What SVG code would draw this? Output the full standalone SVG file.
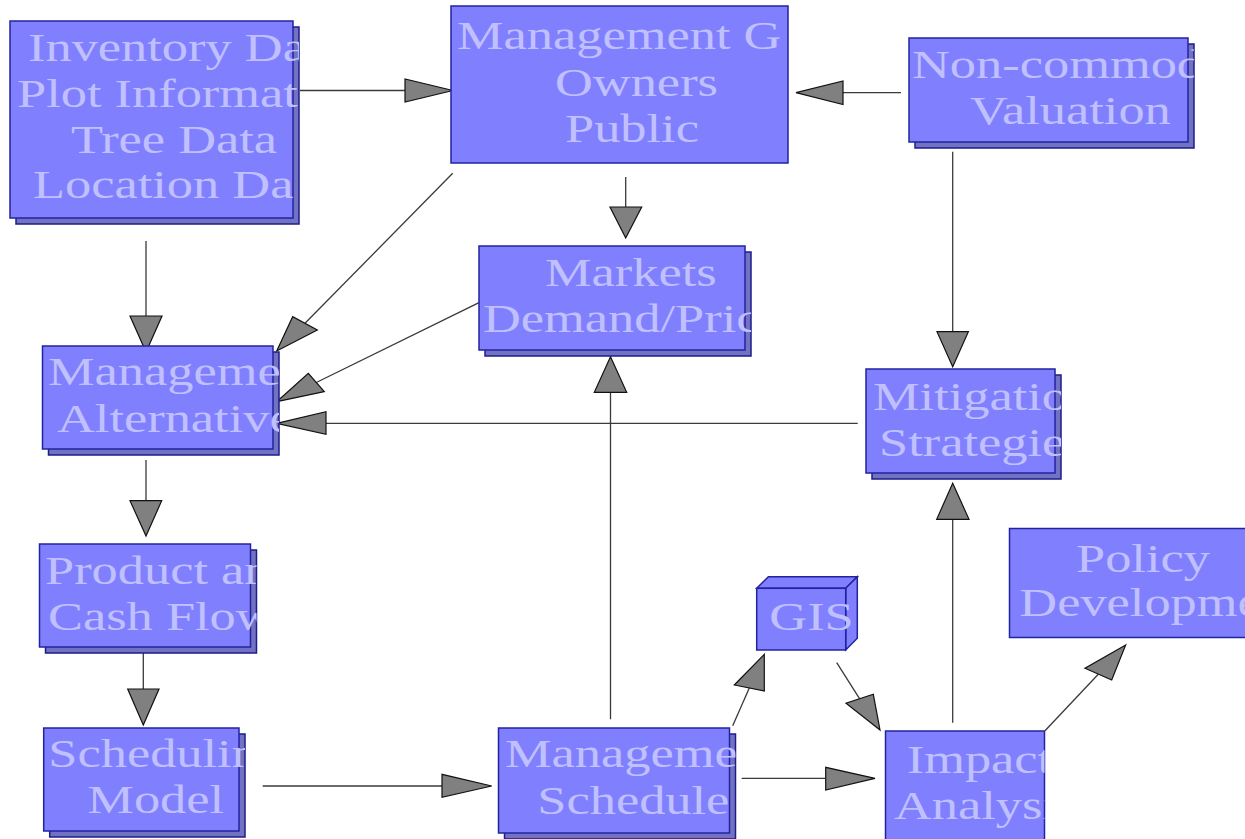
<svg xmlns="http://www.w3.org/2000/svg" width="1245" height="839" viewBox="0 0 1245 839">
<style>
.box{fill:#8080ff;stroke:#2323a0;stroke-width:1.5}
.shd{fill:#7272c2;stroke:#1c1c8c;stroke-width:1.5}
.t{font-family:"Liberation Serif","Times New Roman",serif;font-size:40px;fill:#c0c0ff}
.ln{stroke:#3a3a3a;stroke-width:1.3;fill:none}
.ah{fill:#808080;stroke:#111;stroke-width:1.2;stroke-linejoin:miter}
</style>
<defs>
<clipPath id="c1"><rect x="10" y="21" width="289" height="203"/></clipPath>
<clipPath id="c2"><rect x="451" y="6" width="337" height="157"/></clipPath>
<clipPath id="c3"><rect x="909" y="38" width="285" height="110"/></clipPath>
<clipPath id="c4"><rect x="479" y="246" width="272" height="110"/></clipPath>
<clipPath id="c5"><rect x="42.5" y="346" width="236.5" height="109"/></clipPath>
<clipPath id="c6"><rect x="866" y="369" width="195" height="110"/></clipPath>
<clipPath id="c7"><rect x="39.5" y="544" width="217" height="109"/></clipPath>
<clipPath id="c8"><rect x="1009.5" y="528.5" width="260" height="109"/></clipPath>
<clipPath id="c10"><rect x="43.7" y="728" width="201.3" height="109"/></clipPath>
<clipPath id="c11"><rect x="498.5" y="728" width="237" height="111"/></clipPath>
<clipPath id="c12"><rect x="885.5" y="731" width="159" height="120"/></clipPath>
</defs>

<g id="connectors">
<line class="ln" x1="300" y1="90.5" x2="405" y2="90.5"/>
<polygon class="ah" points="453,90.5 405,79 405,102"/>
<line class="ln" x1="901" y1="92.7" x2="843" y2="92.7"/>
<polygon class="ah" points="796,92.7 843,81 843,104.5"/>
<line class="ln" x1="625.7" y1="177" x2="625.7" y2="207"/>
<polygon class="ah" points="625.7,238 610,207 641.7,207"/>
<line class="ln" x1="452.7" y1="173.3" x2="305" y2="323.3"/>
<polygon class="ah" points="276.7,351 292.7,316.7 317.3,330"/>
<line class="ln" x1="479" y1="302.7" x2="316.3" y2="382.5"/>
<polygon class="ah" points="276.7,401.7 308.3,373.3 324.3,391.7"/>
<line class="ln" x1="857.7" y1="423.3" x2="326" y2="423.3"/>
<polygon class="ah" points="276.7,423.3 326,411.7 326,434.3"/>
<line class="ln" x1="146" y1="241" x2="146" y2="316"/>
<polygon class="ah" points="146,352 130,316 162,316"/>
<line class="ln" x1="952.7" y1="151.7" x2="952.7" y2="331.7"/>
<polygon class="ah" points="952.7,366.7 937,331.7 968.4,331.7"/>
<line class="ln" x1="146" y1="460" x2="146" y2="500.7"/>
<polygon class="ah" points="146,536 130,500.7 161.7,500.7"/>
<line class="ln" x1="143.3" y1="652" x2="143.3" y2="689"/>
<polygon class="ah" points="143.3,725 127.7,689 159,689"/>
<line class="ln" x1="262.7" y1="786" x2="442" y2="786"/>
<polygon class="ah" points="491.7,786 442,774.3 442,797.3"/>
<line class="ln" x1="610.5" y1="719.3" x2="610.5" y2="392.3"/>
<polygon class="ah" points="610.5,356.7 594.3,392.3 626.7,392.3"/>
<line class="ln" x1="732.7" y1="725.7" x2="749.3" y2="688"/>
<polygon class="ah" points="764.3,654.3 734.3,685 764.3,691"/>
<line class="ln" x1="836.7" y1="662.7" x2="859.7" y2="698.8"/>
<polygon class="ah" points="880,730 846,703.3 873.3,694.3"/>
<line class="ln" x1="741.7" y1="778.3" x2="825.7" y2="778.3"/>
<polygon class="ah" points="875,778.3 825.7,767.3 825.7,790"/>
<line class="ln" x1="952.7" y1="722.7" x2="952.7" y2="519.3"/>
<polygon class="ah" points="952.7,483.3 936.7,519.3 969,519.3"/>
<line class="ln" x1="1045" y1="730.7" x2="1098.3" y2="674.2"/>
<polygon class="ah" points="1125.7,645 1085,668.3 1111.7,680"/>
</g>

<g id="inventory">
<rect class="shd" x="16" y="27" width="283" height="197"/>
<rect class="box" x="10" y="21" width="283" height="197"/>
<g clip-path="url(#c1)">
<text class="t" transform="translate(28,61) scale(1.31,1)">Inventory Da</text>
<text class="t" transform="translate(17,107) scale(1.31,1)">Plot Informat</text>
<text class="t" transform="translate(71,153) scale(1.31,1)">Tree Data</text>
<text class="t" transform="translate(33,198) scale(1.31,1)">Location Da</text>
</g>
</g>

<g id="goals">
<rect class="box" x="451" y="6" width="337" height="157"/>
<g clip-path="url(#c2)">
<text class="t" transform="translate(457,49) scale(1.31,1)">Management G</text>
<text class="t" transform="translate(555,96) scale(1.31,1)">Owners</text>
<text class="t" transform="translate(565,142) scale(1.31,1)">Public</text>
</g>
</g>

<g id="noncommodity">
<rect class="shd" x="915" y="44" width="279" height="104"/>
<rect class="box" x="909" y="38" width="279" height="104"/>
<g clip-path="url(#c3)">
<text class="t" transform="translate(912,78) scale(1.31,1)">Non-commod</text>
<text class="t" transform="translate(970,124) scale(1.31,1)">Valuation</text>
</g>
</g>

<g id="markets">
<rect class="shd" x="485" y="252" width="266" height="104"/>
<rect class="box" x="479" y="246" width="266" height="104"/>
<g clip-path="url(#c4)">
<text class="t" transform="translate(545,286) scale(1.31,1)">Markets</text>
<text class="t" transform="translate(483,332) scale(1.31,1)">Demand/Pric</text>
</g>
</g>

<g id="alternatives">
<rect class="shd" x="48.5" y="352" width="230.5" height="103"/>
<rect class="box" x="42.5" y="346" width="230.5" height="103"/>
<g clip-path="url(#c5)">
<text class="t" transform="translate(48,385) scale(1.31,1)">Manageme</text>
<text class="t" transform="translate(57,431.7) scale(1.31,1)">Alternative</text>
</g>
</g>

<g id="mitigation">
<rect class="shd" x="872" y="375" width="189" height="104"/>
<rect class="box" x="866" y="369" width="189" height="104"/>
<g clip-path="url(#c6)">
<text class="t" transform="translate(873,410) scale(1.31,1)">Mitigatio</text>
<text class="t" transform="translate(879,456) scale(1.31,1)">Strategie</text>
</g>
</g>

<g id="product">
<rect class="shd" x="45.5" y="550" width="211" height="103"/>
<rect class="box" x="39.5" y="544" width="211" height="103"/>
<g clip-path="url(#c7)">
<text class="t" transform="translate(45,584) scale(1.31,1)">Product an</text>
<text class="t" transform="translate(48,630) scale(1.31,1)">Cash Flow</text>
</g>
</g>

<g id="policy">
<rect class="box" x="1009.5" y="528.5" width="260" height="109"/>
<g clip-path="url(#c8)">
<text class="t" transform="translate(1076,571.7) scale(1.31,1)">Policy</text>
<text class="t" transform="translate(1019.3,616) scale(1.31,1)">Developme</text>
</g>
</g>

<g id="gis">
<polygon class="box" points="756.7,588.3 768.4,576.7 857.3,576.7 845.7,588.3"/>
<polygon class="box" points="845.7,588.3 857.3,576.7 857.3,638.3 845.7,650"/>
<rect class="box" x="756.7" y="588.3" width="89" height="61.7"/>
<text class="t" transform="translate(769.3,630) scale(1.31,1)">GIS</text>
</g>

<g id="scheduling">
<rect class="shd" x="49.7" y="734" width="195.3" height="103"/>
<rect class="box" x="43.7" y="728" width="195.3" height="103"/>
<g clip-path="url(#c10)">
<text class="t" transform="translate(48.3,767) scale(1.31,1)">Schedulin</text>
<text class="t" transform="translate(87.3,813) scale(1.31,1)">Model</text>
</g>
</g>

<g id="schedule">
<rect class="shd" x="504.5" y="734" width="231" height="105"/>
<rect class="box" x="498.5" y="728" width="231" height="105"/>
<g clip-path="url(#c11)">
<text class="t" transform="translate(505,767.3) scale(1.31,1)">Manageme</text>
<text class="t" transform="translate(537.3,814) scale(1.31,1)">Schedule</text>
</g>
</g>

<g id="impact">
<rect class="box" x="885.5" y="731" width="159" height="120"/>
<g clip-path="url(#c12)">
<text class="t" transform="translate(906.7,773.3) scale(1.31,1)">Impact</text>
<text class="t" transform="translate(894,819.3) scale(1.31,1)">Analysi</text>
</g>
</g>
</svg>
